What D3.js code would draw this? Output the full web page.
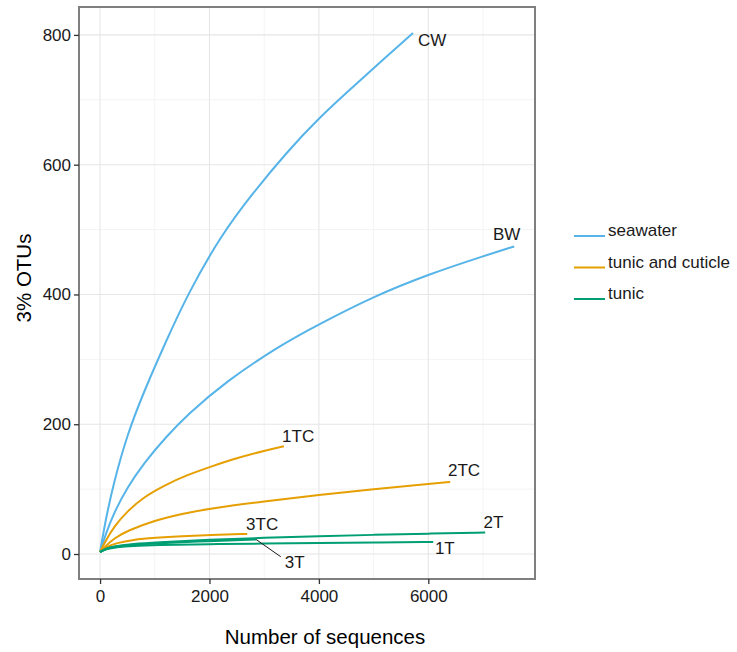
<!DOCTYPE html>
<html>
<head>
<meta charset="utf-8">
<script src="https://cdn.jsdelivr.net/npm/d3@7"></script>
<style>
  body { margin: 0; background: #fff; }
  svg { display: block; font-family: "Liberation Sans", Arial, sans-serif; }
</style>
</head>
<body>
<svg id="chart" width="737" height="652"></svg>
<script>
// rarefaction curves, values: [sequences, OTUs]
const CW  = [[0,3],[100,52],[250,110],[500,185],[800,250],[1200,327],[1600,400],[2200,490],[2800,557],[3400,618],[4000,672],[4600,718],[5200,764],[5720,803]];
const BW  = [[0,3],[100,30],[250,63],[500,103],[800,140],[1200,180],[1600,215],[2300,266],[3300,322],[4000,354],[5000,397],[6000,431],[7000,459],[7570,474]];
const TC1 = [[0,3],[100,20],[250,42],[500,66],[800,88],[1200,107],[1600,122],[2000,134],[2500,148],[3000,159],[3360,166]];
const TC2 = [[0,3],[100,12],[250,24],[500,36],[1000,52],[1500,62],[2000,70],[3000,81],[4000,91],[5000,100],[6000,108],[6400,111]];
const TC3 = [[0,3],[100,11],[300,17],[600,22],[1000,25],[1500,27.5],[2000,29.2],[2690,31]];
const T1  = [[0,3],[100,7.5],[300,10.5],[600,12.5],[1000,13.7],[2000,15.2],[3000,16.2],[4000,17],[5000,17.7],[6090,18.5]];
const T2  = [[0,3],[100,8.5],[300,12.5],[600,15.5],[1000,18],[2000,22],[3000,25],[4000,27.5],[5000,29.5],[6000,31.5],[7040,33]];
const T3  = [[0,3],[100,8.5],[300,12],[600,14.5],[1000,16.5],[2000,20],[2850,22.5]];

const groups = ["seawater", "tunic and cuticle", "tunic"];
const groupColors = ["#56B4E9", "#E69F00", "#009E73"];

const samples = [
  {name: "CW",  group: "seawater", values: CW},
  {name: "BW",  group: "seawater", values: BW},
  {name: "1TC", group: "tunic and cuticle", values: TC1},
  {name: "2TC", group: "tunic and cuticle", values: TC2},
  {name: "3TC", group: "tunic and cuticle", values: TC3},
  {name: "1T",  group: "tunic", values: T1},
  {name: "2T",  group: "tunic", values: T2},
  {name: "3T",  group: "tunic", values: T3}
];

// label anchors in data units (repelled labels)
const labelPos = {
  CW: [6070, 792], BW: [7431, 494], "1TC": [3620, 182], "2TC": [6654, 129],
  "3TC": [2962, 47], "2T": [7190, 50], "1T": [6302, 10], "3T": [3556, -12]
};
const leader3T = [[2850, 22.5], [3303, -4.2]];

const xTicks = [0, 2000, 4000, 6000];
const yTicks = [0, 200, 400, 600, 800];
const xMinor = [1000, 3000, 5000, 7000];
const yMinor = [100, 300, 500, 700];

const svg = d3.select("#chart");
const panel = {left: 79, right: 535, top: 7, bottom: 579};

const x = d3.scaleLinear().domain([-385, 7950]).range([panel.left, panel.right]);
const y = d3.scaleLinear().domain([-38.5, 843]).range([panel.bottom, panel.top]);
const color = d3.scaleOrdinal().domain(groups).range(groupColors);

// grid
const grid = svg.append("g");
grid.selectAll(".xminor").data(xMinor).enter().append("line")
  .attr("x1", d => x(d)).attr("x2", d => x(d))
  .attr("y1", panel.top).attr("y2", panel.bottom)
  .attr("stroke", "#f4f4f4").attr("stroke-width", 1);
grid.selectAll(".yminor").data(yMinor).enter().append("line")
  .attr("y1", d => y(d)).attr("y2", d => y(d))
  .attr("x1", panel.left).attr("x2", panel.right)
  .attr("stroke", "#f4f4f4").attr("stroke-width", 1);
grid.selectAll(".xmajor").data(xTicks).enter().append("line")
  .attr("x1", d => x(d)).attr("x2", d => x(d))
  .attr("y1", panel.top).attr("y2", panel.bottom)
  .attr("stroke", "#e6e6e6").attr("stroke-width", 1.1);
grid.selectAll(".ymajor").data(yTicks).enter().append("line")
  .attr("y1", d => y(d)).attr("y2", d => y(d))
  .attr("x1", panel.left).attr("x2", panel.right)
  .attr("stroke", "#e6e6e6").attr("stroke-width", 1.1);

// curves
const line = d3.line()
  .x(d => x(d[0]))
  .y(d => y(d[1]))
  .curve(d3.curveBasis);

svg.append("g").selectAll("path").data(samples).enter().append("path")
  .attr("d", d => line(d.values))
  .attr("fill", "none")
  .attr("stroke", d => color(d.group))
  .attr("stroke-width", 2);

// leader for 3T
svg.append("line")
  .attr("x1", x(leader3T[0][0])).attr("y1", y(leader3T[0][1]))
  .attr("x2", x(leader3T[1][0])).attr("y2", y(leader3T[1][1]))
  .attr("stroke", "#1a1a1a").attr("stroke-width", 1);

svg.append("g").selectAll("text").data(samples).enter().append("text")
  .attr("x", d => x(labelPos[d.name][0]))
  .attr("y", d => y(labelPos[d.name][1]))
  .attr("text-anchor", "middle")
  .attr("dy", "0.36em")
  .attr("font-size", 17)
  .attr("fill", "#1a1a1a")
  .text(d => d.name);

// panel border
svg.append("rect")
  .attr("x", panel.left).attr("y", panel.top)
  .attr("width", panel.right - panel.left).attr("height", panel.bottom - panel.top)
  .attr("fill", "none").attr("stroke", "#7f7f7f").attr("stroke-width", 2);

// axes
const xAxis = svg.append("g")
  .attr("transform", `translate(0,${panel.bottom})`)
  .call(d3.axisBottom(x).tickValues(xTicks).tickSize(5).tickPadding(6).tickFormat(d3.format("d")));
const yAxis = svg.append("g")
  .attr("transform", `translate(${panel.left},0)`)
  .call(d3.axisLeft(y).tickValues(yTicks).tickSize(5).tickPadding(3).tickFormat(d3.format("d")));
[xAxis, yAxis].forEach(a => {
  a.select(".domain").remove();
  a.selectAll(".tick line").attr("stroke", "#333").attr("stroke-width", 1.3);
  a.selectAll(".tick text").attr("font-size", 17).attr("fill", "#1a1a1a")
    .attr("font-family", "Liberation Sans, Arial, sans-serif");
});

svg.append("text")
  .attr("x", 325).attr("y", 644)
  .attr("text-anchor", "middle")
  .attr("font-size", 20.5).attr("fill", "#000")
  .text("Number of sequences");

svg.append("text")
  .attr("transform", "translate(31,278) rotate(-90)")
  .attr("text-anchor", "middle")
  .attr("font-size", 20.5).attr("fill", "#000")
  .text("3% OTUs");

// legend
const legend = svg.append("g").attr("transform", "translate(574,236)");
const item = legend.selectAll("g").data(groups).enter().append("g")
  .attr("transform", (d, i) => `translate(0,${i * 31.5})`);
item.append("line")
  .attr("x1", 0).attr("x2", 31).attr("y1", 0).attr("y2", 0)
  .attr("stroke", d => color(d)).attr("stroke-width", 2);
item.append("text")
  .attr("x", 34).attr("y", 0)
  .attr("font-size", 17).attr("fill", "#1a1a1a")
  .text(d => d);
</script>
</body>
</html>
